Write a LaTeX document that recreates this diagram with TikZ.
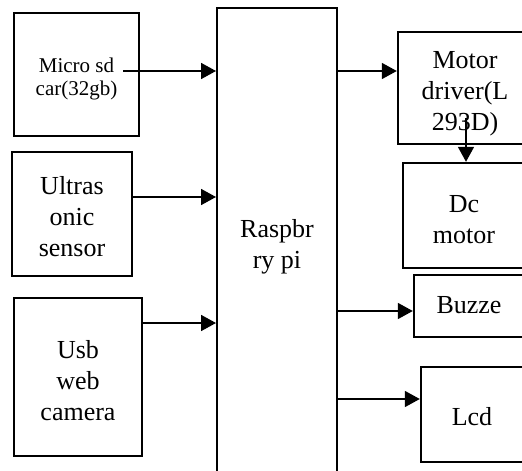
\documentclass[tikz,border=0pt]{standalone}
\usepackage{fontspec}
\setmainfont{Liberation Serif}
\usetikzlibrary{arrows.meta,calc}
\begin{document}
\begin{tikzpicture}[x=1pt,y=-1pt,
  blk/.style={draw,line width=2.4pt,rectangle,inner sep=0pt},
  txt/.style={inner sep=0pt,align=center,font=\fontsize{26}{31}\selectfont},
  conn/.style={line width=1.7pt,-{Triangle[length=15pt,width=16pt]}}]
\useasboundingbox (0,0) rectangle (522,471);
\clip (0,0) rectangle (522,471);
\fill[white] (0,0) rectangle (522,471);
% left blocks
\node[blk,minimum width=125pt,minimum height=123pt] (ms) at (76.5,74.5) {};
\node[txt,font=\fontsize{21}{23}\selectfont] (mst) at ($(ms.center)+(0,4)$) {Micro sd\\car(32gb)};
\node[blk,minimum width=120pt,minimum height=124pt] (us) at (72,214) {};
\node[txt] (ust) at ($(us.center)+(0,3)$) {Ultras\\onic\\sensor};
\node[blk,minimum width=128pt,minimum height=158pt] (usb) at (78,377) {};
\node[txt] (usbt) at ($(usb.center)+(0,4)$) {Usb\\web\\camera};
% central block
\node[blk,line width=2pt,minimum width=120pt,minimum height=472pt] (rp) at (277,244) {};
\node[txt] (rpt) at ($(rp.center)+(0,3)$) {Raspbr\\ry pi};
% right blocks
\node[blk,minimum width=134pt,minimum height=112pt] (md) at (465,88) {};
\node[txt] (mdt) at ($(md.center)+(0,6)$) {Motor\\driver(L\\293D)};
\node[blk,minimum width=122pt,minimum height=105pt] (dc) at (464,215.5) {};
\node[txt] (dct) at ($(dc.center)+(0,4)$) {Dc\\motor};
\node[blk,minimum width=110pt,minimum height=62pt] (bz) at (469,306) {};
\node[txt] (bzt) at ($(bz.center)+(0,-1)$) {Buzze};
\node[blk,minimum width=102pt,minimum height=95pt] (lcd) at (472,414.5) {};
\node[txt] (lcdt) at ($(lcd.center)+(0,2)$) {Lcd};
% connectors
\coordinate (msstart) at (123,71);
\draw[conn] (msstart) -- (msstart -| rp.west);
\coordinate (usstart) at (us.east |- {(0,197)});
\draw[conn] (usstart) -- (usstart -| rp.west);
\coordinate (usbstart) at (usb.east |- {(0,323)});
\draw[conn] (usbstart) -- (usbstart -| rp.west);
\coordinate (mdstart) at (rp.east |- {(0,71)});
\draw[conn] (mdstart) -- (mdstart -| md.west);
\coordinate (mddown) at (466,118);
\draw[conn] (mddown) -- (mddown |- dc.north);
\coordinate (bzstart) at (rp.east |- {(0,311)});
\draw[conn] (bzstart) -- (bzstart -| bz.west);
\coordinate (lcdstart) at (rp.east |- {(0,399)});
\draw[conn] (lcdstart) -- (lcdstart -| lcd.west);
\end{tikzpicture}
\end{document}
